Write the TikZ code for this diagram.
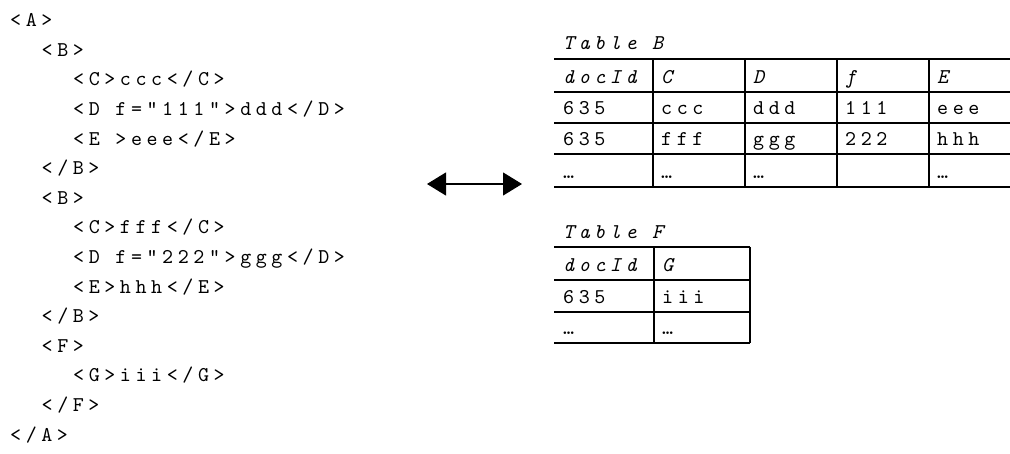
\documentclass[tikz,border=0pt]{standalone}
\usepackage{fontspec}
\usetikzlibrary{arrows.meta}
\newfontfamily\codefont{lmmono10-regular.otf}[ItalicFont=lmmono10-italic.otf, LetterSpace=21.8]
\tikzset{
  code/.style={anchor=base west, inner sep=0pt, font=\codefont\fontsize{21}{21}\selectfont},
  codeit/.style={code, font=\codefont\itshape\fontsize{21}{21}\selectfont},
  tline/.style={line width=2.8pt},
  biarrow/.style={line width=1.2pt, {Triangle[length=19pt,width=23pt]}-{Triangle[length=19pt,width=23pt]}}
}
\begin{document}
\begin{tikzpicture}[x=1pt,y=-1pt]
\useasboundingbox (0,0) rectangle (1010,454);
% XML code
\node[code] (l0)  at (10,26.7)  {<A>};
\node[code] (l1)  at (41.5,56.3) {<B>};
\node[code] (l2)  at (73,85.9)  {<C>ccc</C>};
\node[code] (l3)  at (73,115.5) {<D f=”111”>ddd</D>};
\node[code] (l4)  at (73,145.1) {<E >eee</E>};
\node[code] (l5)  at (41.5,174.7) {</B>};
\node[code] (l6)  at (41.5,204.3) {<B>};
\node[code] (l7)  at (73,233.9) {<C>fff</C>};
\node[code] (l8)  at (73,263.5) {<D f=”222”>ggg</D>};
\node[code] (l9)  at (73,293.1) {<E>hhh</E>};
\node[code] (l10) at (41.5,322.7) {</B>};
\node[code] (l11) at (41.5,352.3) {<F>};
\node[code] (l12) at (73,381.9) {<G>iii</G>};
\node[code] (l13) at (41.5,411.5) {</F>};
\node[code] (l14) at (10,441.1) {</A>};
% arrow
\coordinate (arrL) at (427,184);
\coordinate (arrR) at (522,184);
\draw[biarrow] (arrL) -- (arrR);
% Table B
\node[codeit] (tB) at (563,50) {Table B};
\foreach \y in {59,92,123,154,187} \draw[tline] (554,\y) -- (1010,\y);
\foreach \x in {653,745,837,929} \draw[tline] (\x,59) -- (\x,187);
\node[codeit] (bh0) at (563,84) {docId};
\node[codeit] (bh1) at (661,84) {C};
\node[codeit] (bh2) at (753,84) {D};
\node[codeit] (bh3) at (845,84) {f};
\node[codeit] (bh4) at (937,84) {E};
\node[code] (b10) at (563,115) {635};
\node[code] (b11) at (661,115) {ccc};
\node[code] (b12) at (753,115) {ddd};
\node[code] (b13) at (845,115) {111};
\node[code] (b14) at (937,115) {eee};
\node[code] (b20) at (563,146) {635};
\node[code] (b21) at (661,146) {fff};
\node[code] (b22) at (753,146) {ggg};
\node[code] (b23) at (845,146) {222};
\node[code] (b24) at (937,146) {hhh};
\node[code] (b30) at (563,179) {…};
\node[code] (b31) at (661,179) {…};
\node[code] (b32) at (753,179) {…};
\node[code] (b34) at (937,179) {…};
% Table F
\node[codeit] (tF) at (563,239) {Table F};
\foreach \y in {247,280,312,343} \draw[tline] (554,\y) -- (750,\y);
\foreach \x in {654,750} \draw[tline] (\x,247) -- (\x,343);
\node[codeit] (fh0) at (563,272) {docId};
\node[codeit] (fh1) at (662,272) {G};
\node[code] (f10) at (563,304) {635};
\node[code] (f11) at (662,304) {iii};
\node[code] (f20) at (563,335) {…};
\node[code] (f21) at (662,335) {…};
\end{tikzpicture}
\end{document}
